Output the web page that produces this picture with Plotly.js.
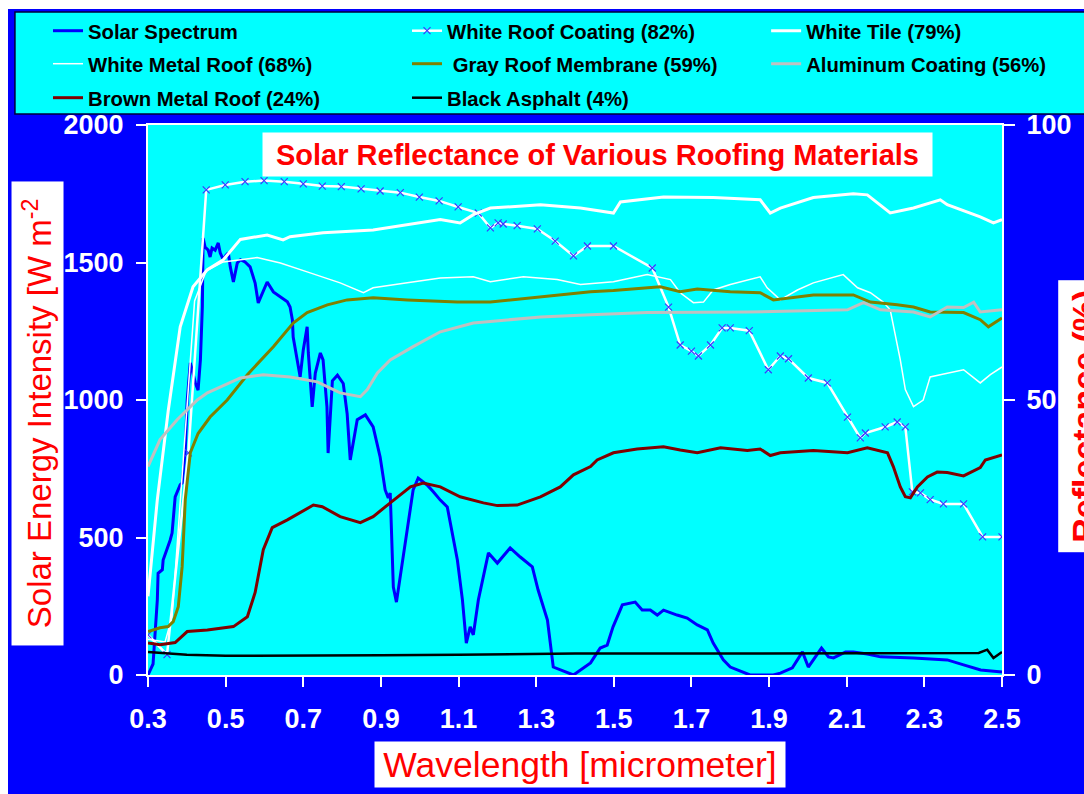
<!DOCTYPE html>
<html>
<head>
<meta charset="utf-8">
<script src="https://cdn.plot.ly/plotly-3.0.1.min.js"></script>
<style>
html,body{margin:0;padding:0;background:#ffffff;width:1084px;height:794px;overflow:hidden;}
#chart{position:absolute;left:8px;top:9px;width:1076px;height:785px;}
</style>
</head>
<body>
<div id="chart"></div>
<script>
// ---------- DATA ----------
const wavelengthTicks = [0.3,0.5,0.7,0.9,1.1,1.3,1.5,1.7,1.9,2.1,2.3,2.5];
const wavelengthLabels = ["0.3","0.5","0.7","0.9","1.1","1.3","1.5","1.7","1.9","2.1","2.3","2.5"];
const intensityTicks = [0,500,1000,1500,2000];
const reflectanceTicks = [0,50,100];
const reflectanceMinorTicks = [0,10,20,30,40,50,60,70,80,90,100];

const seriesNames = [
  "Solar Spectrum","White Roof Coating (82%)","White Tile (79%)","White Metal Roof (68%)",
  " Gray Roof Membrane (59%)","Aluminum Coating (56%)","Brown Metal Roof (24%)","Black Asphalt (4%)"
];

// Solar spectrum, W m^-2 (left axis)
const solarX = [0.30,0.313,0.324,0.326,0.337,0.339,0.357,0.362,0.370,0.383,0.388,0.396,0.401,0.409,0.422,0.429,0.435,0.440,0.442,0.447,0.455,0.460,0.465,0.473,0.481,0.486,0.494,0.501,0.507,0.512,0.520,0.530,0.538,0.550,0.563,0.576,0.584,0.594,0.607,0.623,0.641,0.659,0.666,0.672,0.674,0.684,0.692,0.700,0.710,0.713,0.723,0.731,0.744,0.751,0.761,0.764,0.775,0.788,0.803,0.813,0.821,0.839,0.860,0.880,0.898,0.911,0.919,0.924,0.927,0.932,0.940,0.946,0.963,0.983,0.996,1.019,1.035,1.053,1.071,1.084,1.097,1.110,1.120,1.130,1.138,1.151,1.164,1.177,1.200,1.233,1.259,1.290,1.305,1.329,1.344,1.396,1.440,1.465,1.483,1.498,1.522,1.555,1.573,1.594,1.612,1.628,1.663,1.689,1.715,1.741,1.756,1.782,1.800,1.851,1.911,1.929,1.960,1.973,1.986,2.001,2.014,2.035,2.053,2.066,2.097,2.117,2.153,2.187,2.272,2.359,2.401,2.445,2.50];
const solarY = [0,40,273,370,383,418,490,516,648,692,698,818,1000,1135,1062,1036,1146,1338,1589,1556,1545,1520,1553,1545,1571,1535,1510,1527,1535,1484,1429,1498,1510,1502,1484,1425,1353,1389,1429,1393,1375,1357,1338,1291,1229,1146,1084,1182,1266,1171,975,1098,1171,1146,975,807,1070,1090,1060,950,782,928,946,902,793,673,644,662,516,320,265,320,491,673,716,691,666,636,611,516,418,273,116,175,146,273,364,444,407,462,429,393,309,200,29,0,44,98,109,175,255,265,236,236,218,236,218,207,182,164,116,55,29,0,0,7,26,55,84,29,55,98,66,62,84,84,76,66,62,55,37,18,11];

// Reflectance, % (right axis)
const whiteCoatingX = [0.30,0.349,0.404,0.450,0.499,0.550,0.599,0.651,0.700,0.749,0.798,0.849,0.898,0.950,0.999,1.050,1.099,1.151,1.182,1.202,1.215,1.251,1.303,1.349,1.396,1.432,1.499,1.599,1.641,1.671,1.700,1.718,1.749,1.779,1.800,1.849,1.898,1.929,1.950,2.001,2.050,2.102,2.135,2.148,2.199,2.230,2.251,2.269,2.290,2.315,2.349,2.401,2.450,2.500];
const whiteCoatingY = [7.3,3.7,40.4,88.2,89.1,89.7,89.9,89.7,89.3,88.9,88.8,88.4,88.0,87.7,86.9,86.2,85.1,84.0,81.3,82.2,82.0,81.7,81.1,78.9,76.2,78.0,78.0,74.0,66.9,60.0,58.9,58.0,60.0,63.1,63.1,62.6,55.5,58.0,57.5,54.0,53.1,46.9,43.1,44.0,45.1,46.0,45.1,33.3,33.1,31.9,31.1,31.1,25.1,25.1];

const whiteTileX = [0.30,0.324,0.352,0.383,0.416,0.453,0.494,0.538,0.607,0.648,0.666,0.751,0.880,0.968,1.053,1.104,1.138,1.182,1.311,1.414,1.499,1.517,1.628,1.756,1.877,1.903,1.929,2.014,2.117,2.153,2.212,2.272,2.341,2.359,2.444,2.478,2.50];
const whiteTileY = [14.3,31.9,48.0,63.3,70.6,73.7,75.5,79.2,80.0,79.1,79.7,80.4,80.9,81.9,82.8,82.2,83.7,84.9,85.5,84.9,84.0,86.0,86.9,86.8,86.4,84.0,84.9,86.8,87.5,87.3,84.0,84.9,86.4,85.5,83.3,82.2,82.8];

const whiteMetalX = [0.30,0.344,0.362,0.401,0.420,0.450,0.494,0.581,0.641,0.710,0.795,0.855,0.880,0.968,1.053,1.138,1.182,1.267,1.354,1.414,1.499,1.586,1.646,1.671,1.705,1.731,1.756,1.800,1.877,1.895,1.929,1.973,2.014,2.091,2.128,2.161,2.194,2.212,2.238,2.251,2.272,2.297,2.315,2.341,2.401,2.444,2.470,2.50];
const whiteMetalY = [6.5,6.0,10.6,50.0,68.0,73.5,75.1,75.9,74.9,73.3,71.3,69.5,70.4,71.3,72.2,72.4,71.5,72.4,71.9,71.0,71.5,72.8,71.9,69.5,67.7,67.8,70.0,71.0,72.4,70.4,68.2,70.0,71.3,72.8,70.4,69.5,67.8,66.4,57.3,51.9,48.8,50.0,54.2,54.6,55.5,53.1,54.6,56.0];

const grayMembraneX = [0.30,0.331,0.352,0.365,0.378,0.388,0.396,0.409,0.429,0.460,0.504,0.556,0.623,0.674,0.710,0.762,0.813,0.880,0.968,1.097,1.182,1.311,1.440,1.499,1.620,1.671,1.715,1.800,1.877,1.911,2.014,2.117,2.161,2.230,2.272,2.315,2.401,2.444,2.465,2.50];
const grayMembraneY = [7.9,8.6,8.8,9.7,12.4,19.7,31.9,40.4,43.9,46.9,50.0,54.6,59.7,64.0,65.9,67.3,68.2,68.6,68.2,67.8,67.8,68.8,69.7,69.9,70.6,69.7,70.2,69.7,69.5,68.2,69.1,69.1,67.8,67.3,66.9,66.0,65.9,64.6,63.3,64.9];

const aluminumX = [0.30,0.331,0.375,0.427,0.453,0.538,0.597,0.666,0.736,0.795,0.847,0.865,0.891,0.924,0.983,1.053,1.138,1.225,1.311,1.440,1.586,1.844,2.102,2.143,2.187,2.272,2.315,2.359,2.401,2.427,2.444,2.50];
const aluminumY = [37.9,42.8,46.4,50.0,51.3,54.0,54.6,54.2,53.3,51.3,50.6,51.9,54.9,57.3,59.7,62.4,64.0,64.6,65.1,65.5,65.9,66.0,66.4,67.7,66.4,66.0,65.1,66.9,66.8,67.8,66.0,66.4];

const brownMetalX = [0.30,0.331,0.370,0.401,0.453,0.520,0.556,0.576,0.597,0.620,0.659,0.726,0.749,0.795,0.847,0.880,0.924,0.976,1.009,1.053,1.104,1.164,1.200,1.251,1.311,1.362,1.396,1.440,1.457,1.499,1.560,1.628,1.671,1.715,1.775,1.844,1.877,1.903,1.929,2.014,2.102,2.153,2.205,2.220,2.238,2.251,2.264,2.282,2.308,2.333,2.359,2.401,2.444,2.457,2.50];
const brownMetalY = [5.8,5.5,5.9,7.9,8.2,8.8,10.6,15.0,22.8,26.8,28.2,30.9,30.6,28.8,27.7,28.8,31.3,34.2,34.9,34.2,32.4,31.3,30.8,30.9,32.4,34.2,36.4,37.9,39.1,40.4,41.1,41.5,40.9,40.4,41.3,40.8,41.1,39.9,40.4,40.8,40.4,41.3,40.4,37.9,34.2,32.4,32.2,34.2,36.0,36.9,36.8,36.2,37.7,39.1,40.0];

const blackAsphaltX = [0.30,0.40,0.50,0.70,0.90,1.10,1.40,1.80,2.10,2.35,2.44,2.462,2.478,2.50];
const blackAsphaltY = [4.2,3.7,3.5,3.5,3.6,3.7,3.9,3.9,3.9,4.0,4.0,4.6,3.1,4.2];

// ---------- STYLE ----------
const FONT = "Liberation Sans, Arial, Helvetica, sans-serif";
const legendCols = [-0.1171, 0.3033, 0.7238];
const legendRows = [1.1709, 1.1109, 1.0491];
// legend slot for each series: [col,row]
const legendSlots = [[0,0],[1,0],[2,0],[0,1],[1,1],[2,1],[0,2],[1,2]];

function line(name, x, y, color, width, axis, idx, extra) {
  const t = {
    type: "scatter", mode: "lines", name: name, x: x, y: y,
    line: {color: color, width: width},
    yaxis: axis, xaxis: "x",
    legend: idx === 0 ? "legend" : "legend" + (idx + 1),
    hoverinfo: "skip"
  };
  return Object.assign(t, extra || {});
}

const traces = [
  line(seriesNames[0], solarX, solarY, "#0000ff", 3, "y", 0),
  line(seriesNames[1], whiteCoatingX, whiteCoatingY, "#ffffff", 2.5, "y2", 1,
       {mode: "lines+markers", marker: {symbol: "x-thin", size: 7, color: "#3a3aff", line: {color: "#3a3aff", width: 1.2}}}),
  line(seriesNames[2], whiteTileX, whiteTileY, "#ffffff", 3, "y2", 2),
  line(seriesNames[3], whiteMetalX, whiteMetalY, "#ffffff", 1.5, "y2", 3),
  line(seriesNames[4], grayMembraneX, grayMembraneY, "#808000", 3, "y2", 4),
  line(seriesNames[5], aluminumX, aluminumY, "#c0c0c0", 3, "y2", 5),
  line(seriesNames[6], brownMetalX, brownMetalY, "#800000", 3, "y2", 6),
  line(seriesNames[7], blackAsphaltX, blackAsphaltY, "#000000", 2.5, "y2", 7)
];

const tickFont = {family: FONT, size: 27, color: "#ffffff", weight: "bold"};
const baseAxis = {showgrid: false, zeroline: false, tickcolor: "#ffffff", tickwidth: 2, fixedrange: true};

const layout = {
  width: 1076, height: 785,
  paper_bgcolor: "#0000ff",
  plot_bgcolor: "#00ffff",
  margin: {l: 140, r: 82, t: 116, b: 119, autoexpand: false},
  showlegend: true,
  xaxis: Object.assign({}, baseAxis, {
    range: [0.3, 2.5], tickmode: "array", tickvals: wavelengthTicks, ticktext: wavelengthLabels,
    ticks: "outside", ticklen: 10, showline: true, linecolor: "#ffffff", linewidth: 2, mirror: true,
    tickfont: tickFont, ticklabelstandoff: 9
  }),
  xaxis2: Object.assign({}, baseAxis, {
    overlaying: "x", anchor: "y", range: [0.3, 2.5], tickmode: "array", tickvals: wavelengthTicks,
    ticks: "inside", ticklen: 10, showticklabels: false, showline: false
  }),
  yaxis: Object.assign({}, baseAxis, {
    range: [0, 2000], tickmode: "array", tickvals: intensityTicks,
    ticks: "outside", ticklen: 10, showline: true, linecolor: "#ffffff", linewidth: 2,
    tickfont: tickFont, ticklabelstandoff: 7
  }),
  yaxis2: Object.assign({}, baseAxis, {
    overlaying: "y", side: "right", anchor: "x", range: [0, 100], tickmode: "array", tickvals: reflectanceTicks,
    ticks: "outside", ticklen: 11, showline: true, linecolor: "#ffffff", linewidth: 2,
    tickfont: tickFont, ticklabelstandoff: 6
  }),
  yaxis3: Object.assign({}, baseAxis, {
    overlaying: "y", side: "left", anchor: "x", range: [0, 2000], tickmode: "array", tickvals: intensityTicks,
    ticks: "inside", ticklen: 10, showticklabels: false, showline: false
  }),
  yaxis4: Object.assign({}, baseAxis, {
    overlaying: "y", side: "right", anchor: "x", range: [0, 100], tickmode: "array", tickvals: reflectanceMinorTicks,
    ticks: "inside", ticklen: 13, showticklabels: false, showline: false
  }),
  shapes: [{
    type: "rect", xref: "paper", yref: "paper",
    x0: -0.1558, x1: 1.11, y0: 1.02, y1: 1.2055,
    fillcolor: "#00ffff", line: {color: "#00003a", width: 1.5}, layer: "below"
  }],
  annotations: [
    {text: "Solar Reflectance of Various Roofing Materials", xref: "paper", yref: "paper",
     x: 0.5265, y: 0.9464, xanchor: "center", yanchor: "middle", showarrow: false,
     bgcolor: "#ffffff", width: 669, height: 43, borderpad: 0,
     font: {family: FONT, size: 29, color: "#ff0000", weight: "bold"}},
    {text: "Solar Energy Intensity [W m<sup>-2</sup>", xref: "paper", yref: "paper",
     x: -0.1294, y: 0.4755, xanchor: "center", yanchor: "middle", showarrow: false, textangle: -90,
     bgcolor: "#ffffff", width: 463, height: 51, borderpad: 0,
     font: {family: FONT, size: 33, color: "#ff0000"}},
    {text: "Wavelength [micrometer]", xref: "paper", yref: "paper",
     x: 0.506, y: -0.1627, xanchor: "center", yanchor: "middle", showarrow: false,
     bgcolor: "#ffffff", width: 410, height: 45, borderpad: 0,
     font: {family: FONT, size: 35.5, color: "#ff0000"}},
    {text: "Reflectance (%)", xref: "paper", yref: "paper",
     x: 1.0951, y: 0.47, xanchor: "center", yanchor: "middle", showarrow: false, textangle: -90,
     bgcolor: "#ffffff", width: 271, height: 50, borderpad: 0,
     font: {family: FONT, size: 34, color: "#ff0000", weight: "bold"}}
  ]
};

seriesNames.forEach(function (n, i) {
  const key = i === 0 ? "legend" : "legend" + (i + 1);
  const slot = legendSlots[i];
  layout[key] = {
    x: legendCols[slot[0]], y: legendRows[slot[1]], xanchor: "left", yanchor: "middle",
    orientation: "v", bgcolor: "rgba(0,0,0,0)", borderwidth: 0,
    font: {family: FONT, size: 20.3, color: "#000000", weight: "bold"}
  };
});

Plotly.newPlot("chart", traces, layout, {displayModeBar: false, staticPlot: true});
</script>
</body>
</html>
